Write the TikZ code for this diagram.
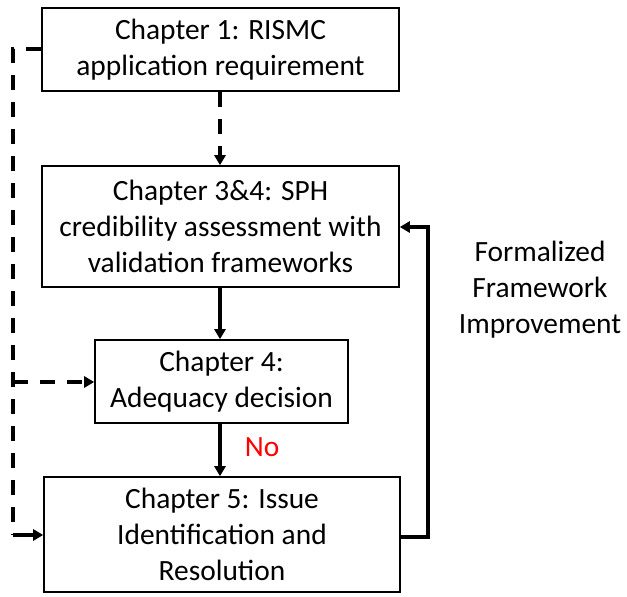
\documentclass[tikz,border=0pt]{standalone}
\usepackage{fontspec}
\setmainfont{Carlito}
\usetikzlibrary{arrows.meta}
\begin{document}
\begin{tikzpicture}[x=1pt,y=-1pt,
  chapbox/.style={draw=black,line width=1.6pt,align=center,inner sep=0pt,
    font=\fontsize{29.4}{36}\selectfont},
  flow/.style={line width=3.6pt,-{Triangle[length=10pt,width=11pt]}},
  dflow/.style={flow,dash pattern=on 15pt off 12pt}]
\useasboundingbox (0,0) rectangle (627,597);
\node[chapbox,minimum width=357pt,minimum height=83pt] (c1) at (220.5,49.5)
  {Chapter 1: RISMC\\application requirement};
\node[chapbox,minimum width=357pt,minimum height=121pt] (c2) at (220.5,226.5)
  {Chapter 3\&4: SPH\\credibility assessment with\\validation frameworks};
\node[chapbox,minimum width=253pt,minimum height=83pt] (c3) at (221.5,381.5)
  {Chapter 4:\\Adequacy decision};
\node[chapbox,minimum width=356pt,minimum height=115pt] (c4) at (222,534.5)
  {Chapter 5: Issue\\Identification and\\Resolution};
\node[align=center,font=\fontsize{29.4}{36}\selectfont] (imp) at (540,290)
  {Formalized\\Framework\\Improvement};
\node[text=red,font=\fontsize{29.4}{30}\selectfont] (no) at (262,447) {No};
% vertical flow
\draw[dflow] (c1.south -| 220,0) -- (c2.north -| 220,0);
\draw[flow] (c2.south -| 220,0) -- (c3.north -| 220,0);
\draw[flow] (c3.south -| 220,0) -- (c4.north -| 220,0);
% dashed bypass on the left
\coordinate (lt) at (13,49);
\coordinate (lm) at (13,382);
\coordinate (lb) at (13,535);
\draw[line width=3.6pt,dash pattern=on 15pt off 12pt] (c1.west |- 0,49) -- (lt) -- (lb);
\draw[dflow] (lm) -- (c3.west |- lm);
\draw[flow] (lb) -- (c4.west |- lb);
% feedback loop
\coordinate (rb) at (428,537);
\coordinate (rt) at (428,227);
\draw[flow] (c4.east |- rb) -- (rb) -- (rt) -- (c2.east |- rt);
\end{tikzpicture}
\end{document}
